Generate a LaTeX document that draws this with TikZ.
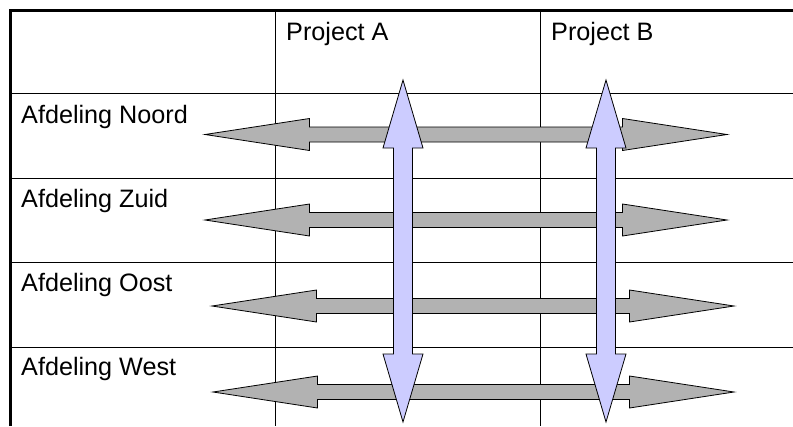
\documentclass[tikz,border=0pt]{standalone}
\usepackage{fontspec}
\setmainfont{Liberation Sans}
\usetikzlibrary{calc}
\tikzset{
  grid/.style={line width=1pt, draw=black},
  border/.style={line width=3pt, draw=black},
  grayarr/.style={draw=black, line width=0.8pt, fill=black!30, line join=miter},
  bluearr/.style={draw=black, line width=0.8pt, fill={rgb,255:red,204;green,204;blue,255}, line join=miter},
  lbl/.style={anchor=base west, inner sep=0pt, font=\fontsize{25.2}{30}\selectfont}
}
\newcommand\myharrow[2]{%
  \draw[grayarr] (#1) -- ++(104.5,-16) -- ++(0,8.5) -- ($(#2)+(-104.5,-7.5)$) -- ++(0,-8.5) -- (#2)
   -- ++(-104.5,16) -- ++(0,-8.5) -- ($(#1)+(104.5,7.5)$) -- ++(0,8.5) -- cycle;}
\newcommand\myvarrow[2]{%
  \draw[bluearr] (#1) -- ++(20,68) -- ++(-10.5,0) -- ($(#2)+(9.5,-68)$) -- ++(10.5,0) -- (#2)
   -- ++(-20,-68) -- ++(10.5,0) -- ($(#1)+(-9.5,68)$) -- ++(-10.5,0) -- cycle;}
\begin{document}
\begin{tikzpicture}[x=1pt,y=-1pt]
\useasboundingbox (0,0) rectangle (793,426);
% table
\draw[grid] (275,10) -- (275,426);
\draw[grid] (540,10) -- (540,426);
\foreach \yy in {93.3,178.3,262.3,347} {\draw[grid] (10,\yy) -- (793,\yy);}
\draw[border] (10,426) -- (10,10.5) -- (793,10.5);
% labels
\node[lbl] (pa) at (286,40.5) {Project A};
\node[lbl] (pb) at (551,40.5) {Project B};
\node[lbl] (an) at (21,123) {Afdeling Noord};
\node[lbl] (az) at (21,207) {Afdeling Zuid};
\node[lbl] (ao) at (21,291.7) {Afdeling Oost};
\node[lbl] (aw) at (21,375.5) {Afdeling West};
% arrow end points
\coordinate (nL) at (205,134.5); \coordinate (nR) at (727,134.5);
\coordinate (zL) at (205,220);   \coordinate (zR) at (727,220);
\coordinate (oL) at (212,306);   \coordinate (oR) at (734,306);
\coordinate (wL) at (213,392);   \coordinate (wR) at (734,392);
\coordinate (aT) at (403,80);    \coordinate (aB) at (403,422);
\coordinate (bT) at (606,80);    \coordinate (bB) at (606,422);
\myharrow{nL}{nR}
\myharrow{zL}{zR}
\myharrow{oL}{oR}
\myharrow{wL}{wR}
\myvarrow{aT}{aB}
\myvarrow{bT}{bB}
\end{tikzpicture}
\end{document}
